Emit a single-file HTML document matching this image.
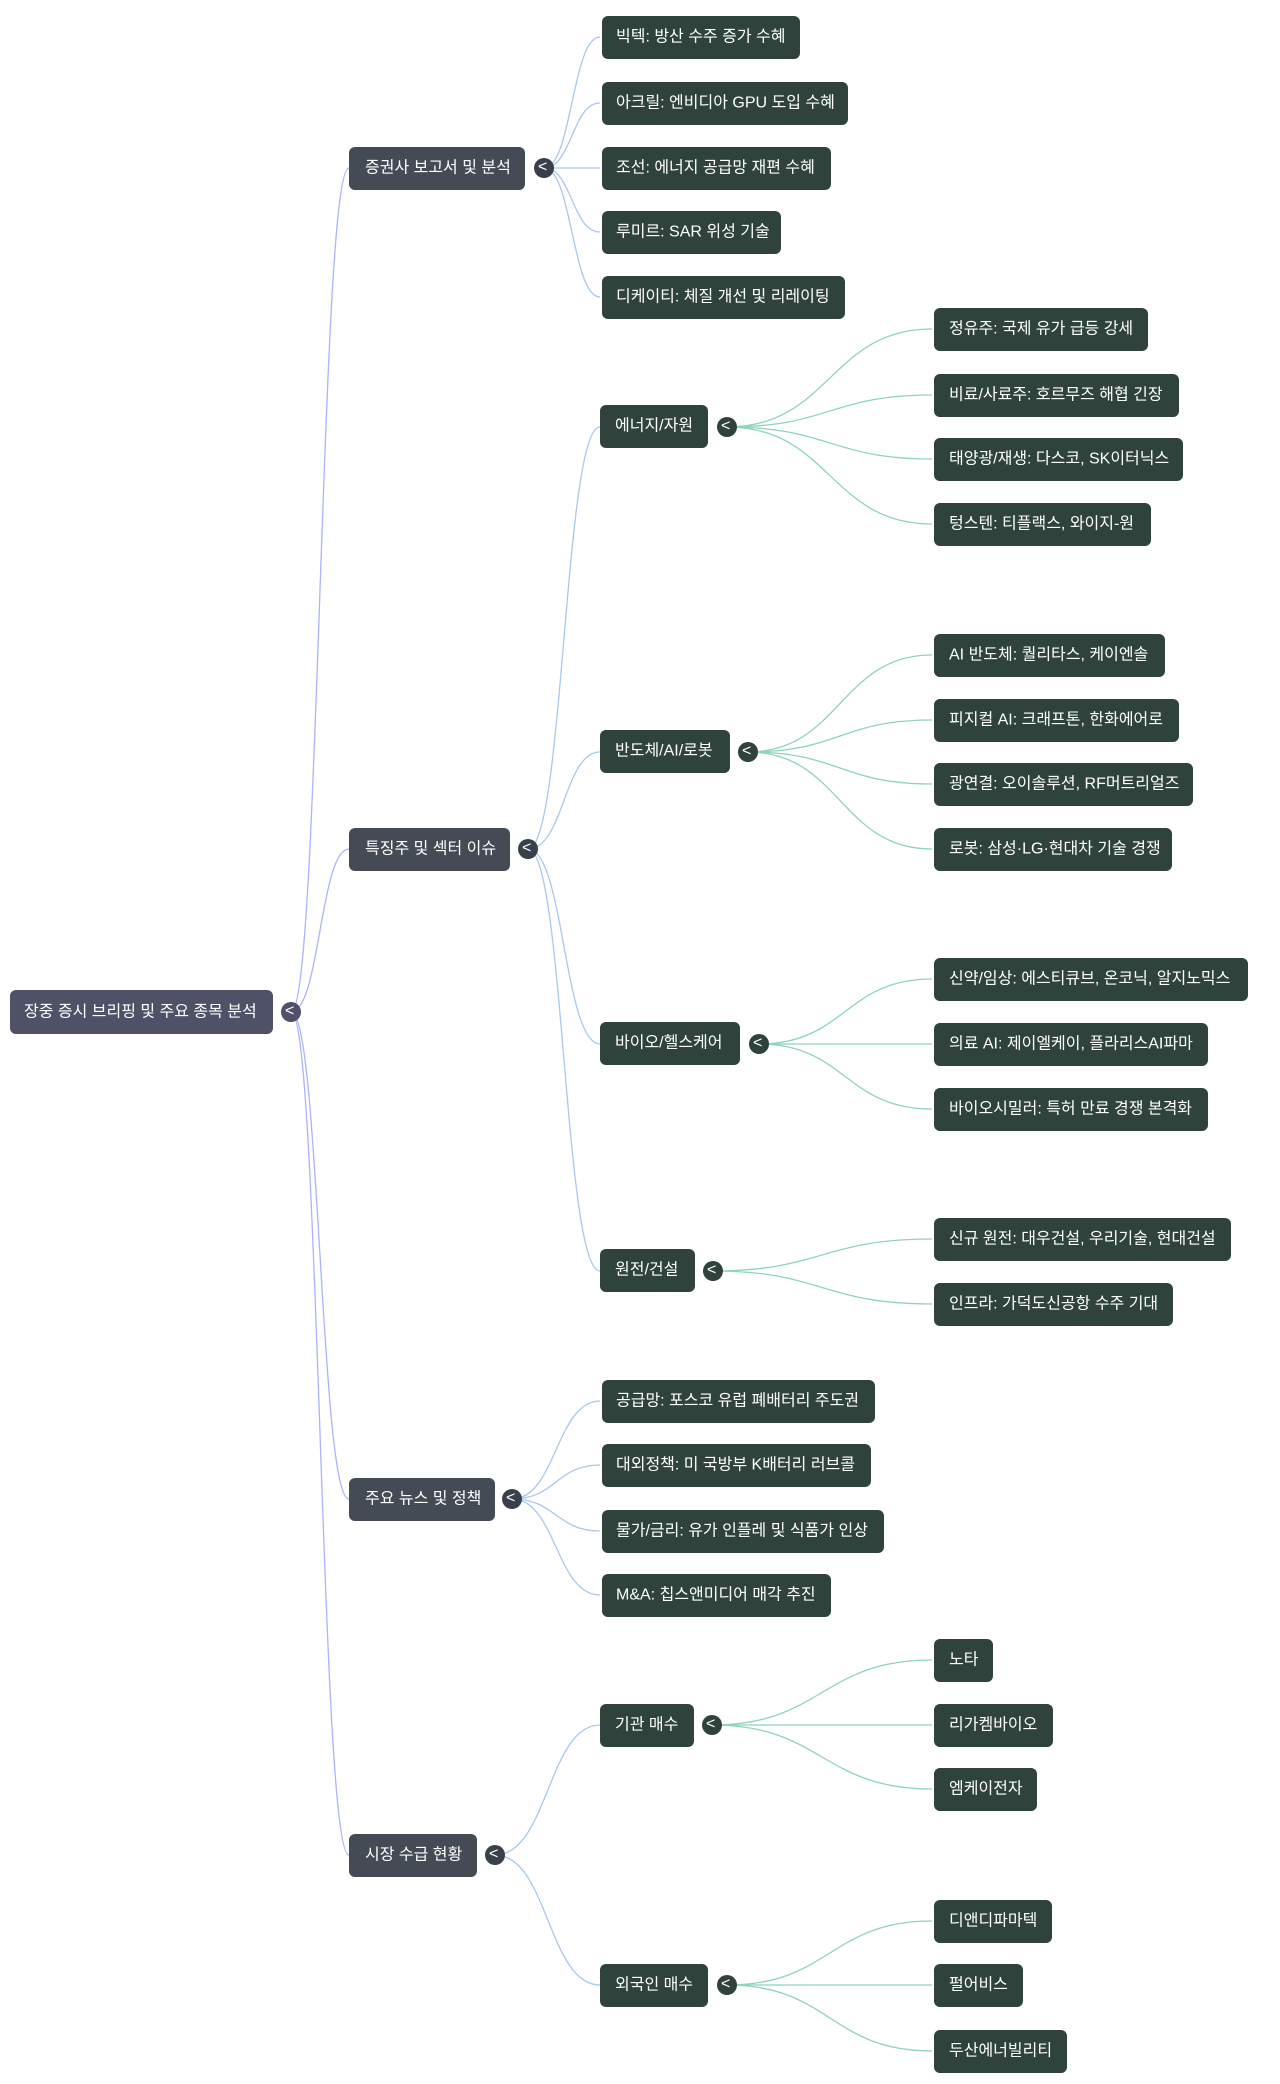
<!DOCTYPE html>
<html><head><meta charset="utf-8"><style>
html,body{margin:0;padding:0;background:#fff;}
svg text{font-family:"Liberation Sans","Noto Sans CJK KR",sans-serif;font-size:16px;fill:#fff;dominant-baseline:central;}
</style></head><body>
<svg width="1280" height="2079" viewBox="0 0 1280 2079" xmlns="http://www.w3.org/2000/svg">
<g fill="none" stroke-width="1.3">
<!-- root links -->
<g stroke="#aab4ff">
<path d="M291 1012 C320 1012 320 168 349 168"/>
<path d="M291 1012 C320 1012 320 849 349 849"/>
<path d="M291 1012 C320 1012 320 1499 349 1499"/>
<path d="M291 1012 C320 1012 320 1855 349 1855"/>
</g>
<g stroke="#a8c8ee">
<path d="M544 168 C572 168 572 37 600 37"/>
<path d="M544 168 C572 168 572 103 600 103"/>
<path d="M544 168 L600 168"/>
<path d="M544 168 C572 168 572 232 600 232"/>
<path d="M544 168 C572 168 572 297 600 297"/>
<path d="M528 849 C564 849 564 427 600 427"/>
<path d="M528 849 C564 849 564 752 600 752"/>
<path d="M528 849 C564 849 564 1044 600 1044"/>
<path d="M528 849 C564 849 564 1271 600 1271"/>
<path d="M512 1499 C556 1499 556 1401 600 1401"/>
<path d="M512 1499 C556 1499 556 1465 600 1465"/>
<path d="M512 1499 C556 1499 556 1531 600 1531"/>
<path d="M512 1499 C556 1499 556 1595 600 1595"/>
<path d="M495 1855 C548 1855 548 1725 600 1725"/>
<path d="M495 1855 C548 1855 548 1985 600 1985"/>
</g>
<g stroke="#8ed5b9">
<path d="M727 427 C830 427 830 329 932 329"/>
<path d="M727 427 C830 427 830 395 932 395"/>
<path d="M727 427 C830 427 830 459 932 459"/>
<path d="M727 427 C830 427 830 524 932 524"/>
<path d="M748 752 C840 752 840 655 932 655"/>
<path d="M748 752 C840 752 840 720 932 720"/>
<path d="M748 752 C840 752 840 784 932 784"/>
<path d="M748 752 C840 752 840 849 932 849"/>
<path d="M759 1044 C845 1044 845 979 932 979"/>
<path d="M759 1044 L932 1044"/>
<path d="M759 1044 C845 1044 845 1109 932 1109"/>
<path d="M713 1271 C822 1271 822 1239 932 1239"/>
<path d="M713 1271 C822 1271 822 1304 932 1304"/>
<path d="M712 1725 C822 1725 822 1660 932 1660"/>
<path d="M712 1725 L932 1725"/>
<path d="M712 1725 C822 1725 822 1789 932 1789"/>
<path d="M727 1985 C830 1985 830 1921 932 1921"/>
<path d="M727 1985 C830 1985 830 1985 932 1985"/>
<path d="M727 1985 C830 1985 830 2051 932 2051"/>
</g>
</g>
<!-- root -->
<rect x="10" y="990" width="263" height="44" rx="6" fill="#4f5168"/>
<text x="24" y="1012">장중 증시 브리핑 및 주요 종목 분석</text>
<circle cx="291" cy="1012" r="10" fill="#4f5168"/><text x="285" y="1011" font-size="13">&lt;</text>
<!-- L1 -->
<g fill="#454b55">
<rect x="349" y="147" width="176" height="43" rx="6"/>
<rect x="349" y="828" width="161" height="43" rx="6"/>
<rect x="349" y="1478" width="146" height="43" rx="6"/>
<rect x="349" y="1834" width="128" height="43" rx="6"/>
</g>
<text x="365" y="168">증권사 보고서 및 분석</text>
<text x="365" y="849">특징주 및 섹터 이슈</text>
<text x="365" y="1499">주요 뉴스 및 정책</text>
<text x="365" y="1855">시장 수급 현황</text>
<g fill="#3a404a">
<circle cx="544" cy="168" r="10"/><circle cx="528" cy="849" r="10"/><circle cx="512" cy="1499" r="10"/><circle cx="495" cy="1855" r="10"/>
</g>
<text x="538" y="167" font-size="13">&lt;</text>
<text x="522" y="848" font-size="13">&lt;</text>
<text x="506" y="1498" font-size="13">&lt;</text>
<text x="489" y="1854" font-size="13">&lt;</text>
<!-- green boxes -->
<g fill="#2f423c">
<rect x="602" y="16" width="198" height="43" rx="6"/>
<rect x="602" y="82" width="246" height="43" rx="6"/>
<rect x="602" y="147" width="229" height="43" rx="6"/>
<rect x="602" y="211" width="179" height="43" rx="6"/>
<rect x="602" y="276" width="243" height="43" rx="6"/>
<rect x="600" y="405" width="108" height="43" rx="6"/>
<rect x="600" y="730" width="130" height="43" rx="6"/>
<rect x="600" y="1022" width="140" height="43" rx="6"/>
<rect x="600" y="1249" width="95" height="43" rx="6"/>
<rect x="602" y="1380" width="273" height="43" rx="6"/>
<rect x="602" y="1444" width="269" height="43" rx="6"/>
<rect x="602" y="1510" width="282" height="43" rx="6"/>
<rect x="602" y="1574" width="229" height="43" rx="6"/>
<rect x="600" y="1704" width="94" height="43" rx="6"/>
<rect x="600" y="1964" width="108" height="43" rx="6"/>
<rect x="934" y="308" width="214" height="43" rx="6"/>
<rect x="934" y="374" width="245" height="43" rx="6"/>
<rect x="934" y="438" width="249" height="43" rx="6"/>
<rect x="934" y="503" width="217" height="43" rx="6"/>
<rect x="934" y="634" width="231" height="43" rx="6"/>
<rect x="934" y="699" width="245" height="43" rx="6"/>
<rect x="934" y="763" width="259" height="43" rx="6"/>
<rect x="934" y="828" width="238" height="43" rx="6"/>
<rect x="934" y="958" width="314" height="43" rx="6"/>
<rect x="934" y="1023" width="274" height="43" rx="6"/>
<rect x="934" y="1088" width="274" height="43" rx="6"/>
<rect x="934" y="1218" width="297" height="43" rx="6"/>
<rect x="934" y="1283" width="239" height="43" rx="6"/>
<rect x="934" y="1639" width="59" height="43" rx="6"/>
<rect x="934" y="1704" width="119" height="43" rx="6"/>
<rect x="934" y="1768" width="103" height="43" rx="6"/>
<rect x="934" y="1900" width="118" height="43" rx="6"/>
<rect x="934" y="1964" width="89" height="43" rx="6"/>
<rect x="934" y="2030" width="133" height="43" rx="6"/>
<circle cx="727" cy="427" r="10"/><circle cx="748" cy="752" r="10"/><circle cx="759" cy="1044" r="10"/><circle cx="713" cy="1271" r="10"/><circle cx="712" cy="1725" r="10"/><circle cx="727" cy="1985" r="10"/>
</g>
<text x="721" y="426" font-size="13">&lt;</text>
<text x="742" y="751" font-size="13">&lt;</text>
<text x="753" y="1043" font-size="13">&lt;</text>
<text x="707" y="1270" font-size="13">&lt;</text>
<text x="706" y="1724" font-size="13">&lt;</text>
<text x="721" y="1984" font-size="13">&lt;</text>
<g>
<text x="616" y="37">빅텍: 방산 수주 증가 수혜</text>
<text x="616" y="103">아크릴: 엔비디아 GPU 도입 수혜</text>
<text x="616" y="168">조선: 에너지 공급망 재편 수혜</text>
<text x="616" y="232">루미르: SAR 위성 기술</text>
<text x="616" y="297">디케이티: 체질 개선 및 리레이팅</text>
<text x="615" y="426">에너지/자원</text>
<text x="615" y="751">반도체/AI/로봇</text>
<text x="615" y="1043">바이오/헬스케어</text>
<text x="615" y="1270">원전/건설</text>
<text x="616" y="1401">공급망: 포스코 유럽 폐배터리 주도권</text>
<text x="616" y="1465">대외정책: 미 국방부 K배터리 러브콜</text>
<text x="616" y="1531">물가/금리: 유가 인플레 및 식품가 인상</text>
<text x="616" y="1595">M&amp;A: 칩스앤미디어 매각 추진</text>
<text x="615" y="1725">기관 매수</text>
<text x="615" y="1985">외국인 매수</text>
<text x="949" y="329">정유주: 국제 유가 급등 강세</text>
<text x="949" y="395">비료/사료주: 호르무즈 해협 긴장</text>
<text x="949" y="459">태양광/재생: 다스코, SK이터닉스</text>
<text x="949" y="524">텅스텐: 티플랙스, 와이지-원</text>
<text x="949" y="655">AI 반도체: 퀄리타스, 케이엔솔</text>
<text x="949" y="720">피지컬 AI: 크래프톤, 한화에어로</text>
<text x="949" y="784">광연결: 오이솔루션, RF머트리얼즈</text>
<text x="949" y="849">로봇: 삼성·LG·현대차 기술 경쟁</text>
<text x="949" y="979">신약/임상: 에스티큐브, 온코닉, 알지노믹스</text>
<text x="949" y="1044">의료 AI: 제이엘케이, 플라리스AI파마</text>
<text x="949" y="1109">바이오시밀러: 특허 만료 경쟁 본격화</text>
<text x="949" y="1239">신규 원전: 대우건설, 우리기술, 현대건설</text>
<text x="949" y="1304">인프라: 가덕도신공항 수주 기대</text>
<text x="949" y="1660">노타</text>
<text x="949" y="1725">리가켐바이오</text>
<text x="949" y="1789">엠케이전자</text>
<text x="949" y="1921">디앤디파마텍</text>
<text x="949" y="1985">펄어비스</text>
<text x="949" y="2051">두산에너빌리티</text>
</g>
</svg>
</body></html>
